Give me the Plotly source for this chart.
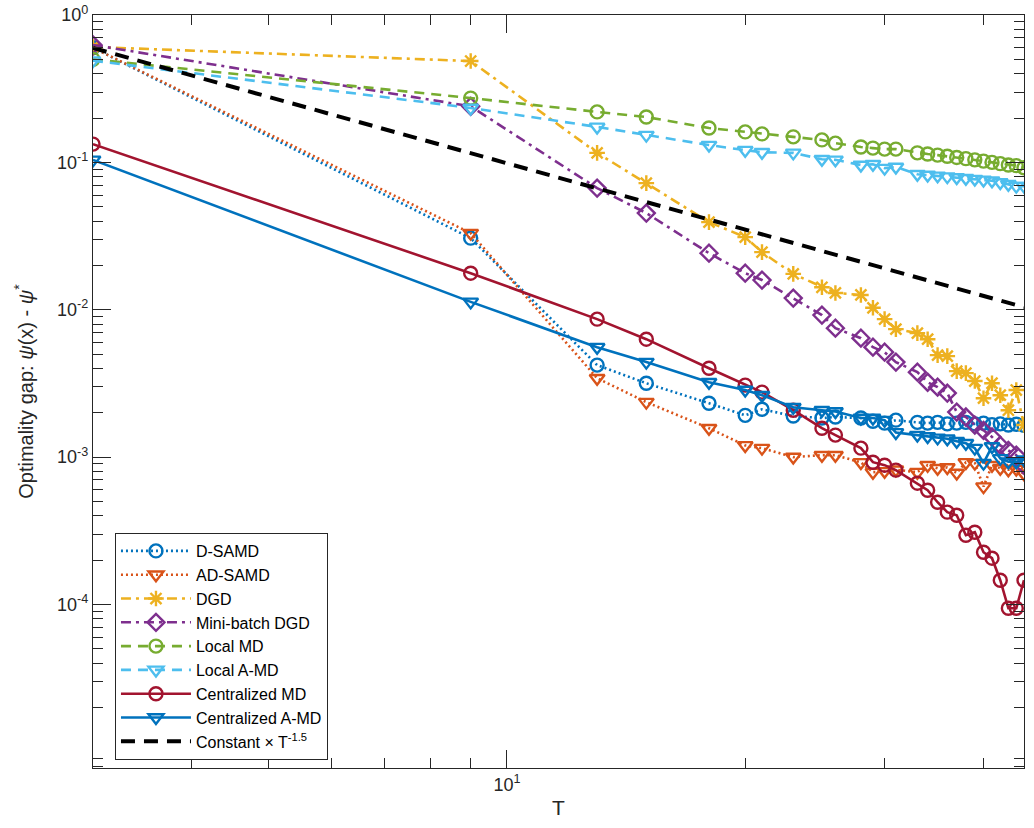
import plotly.graph_objects as go

T = [3, 9, 13, 15, 18, 20, 21, 23, 25, 26, 28, 29, 30, 31, 33, 34, 35, 36, 37, 38, 39, 40, 41, 42, 43, 44, 45]

d_samd = [0.60, 0.0306, 0.00421, 0.00317, 0.00232, 0.00192, 0.00211, 0.00190, 0.00184, 0.00187, 0.00184,
          0.00175, 0.00170, 0.00178, 0.00172, 0.00170, 0.00172, 0.00168, 0.00170, 0.00172, 0.00168,
          0.00170, 0.00166, 0.00168, 0.00165, 0.00167, 0.00164]
ad_samd = [0.60, 0.0331, 0.00343, 0.00236, 0.00157, 0.00120, 0.00115, 0.00100, 0.00103, 0.00103, 0.00092,
           0.00079, 0.00080, 0.00082, 0.00079, 0.00088, 0.00084, 0.00085, 0.00078, 0.00092, 0.00091,
           0.00063, 0.00088, 0.00084, 0.00082, 0.00083, 0.00077]
dgd = [0.607, 0.487, 0.116, 0.0723, 0.0393, 0.0311, 0.0246, 0.0175, 0.0142, 0.0130, 0.0126,
       0.0103, 0.00863, 0.00738, 0.00694, 0.00631, 0.00492, 0.00484, 0.00383, 0.00371, 0.00328,
       0.00251, 0.00317, 0.00263, 0.00208, 0.00285, 0.00165]
mb_dgd = [0.626, 0.240, 0.0669, 0.0453, 0.0242, 0.0177, 0.0159, 0.0120, 0.00919, 0.00750, 0.00641,
          0.00557, 0.00515, 0.00441, 0.00377, 0.00322, 0.00298, 0.00272, 0.00202, 0.00187, 0.00165,
          0.00152, 0.00137, 0.00120, 0.00111, 0.00103, 0.00088]
local_md = [0.50, 0.273, 0.220, 0.203, 0.171, 0.161, 0.156, 0.149, 0.142, 0.135, 0.127,
            0.125, 0.123, 0.123, 0.116, 0.114, 0.112, 0.110, 0.108, 0.106, 0.104,
            0.102, 0.100, 0.098, 0.096, 0.095, 0.092]
local_amd = [0.49, 0.234, 0.174, 0.153, 0.131, 0.121, 0.117, 0.116, 0.105, 0.104, 0.096,
             0.097, 0.0914, 0.093, 0.083, 0.082, 0.081, 0.080, 0.079, 0.078, 0.077,
             0.076, 0.075, 0.073, 0.071, 0.069, 0.069]
cent_md = [0.133, 0.0177, 0.00863, 0.00631, 0.00401, 0.00308, 0.00276, 0.00208, 0.00157, 0.00141, 0.00115,
           0.000923, 0.000881, 0.000815, 0.000665, 0.000596, 0.000494, 0.000423, 0.000403, 0.000295, 0.000309,
           0.000226, 0.000206, 0.000146, 0.0000942, 0.0000942, 0.000146]
cent_amd = [0.104, 0.0113, 0.00557, 0.00441, 0.00322, 0.00285, 0.00263, 0.00218, 0.00208, 0.00204, 0.00184,
            0.00184, 0.00178, 0.00147, 0.00141, 0.00138, 0.00135, 0.00133, 0.00128, 0.00124, 0.00115,
            0.00091, 0.00118, 0.00098, 0.00093, 0.00093, 0.00096]
ref_T = [3, 45]
ref_vals = [0.597, 0.0104]

x_tickvals = [10]
x_ticktext = ["10<sup>1</sup>"]
y_tickvals = [1e-4, 1e-3, 1e-2, 1e-1, 1]
y_ticktext = ["10<sup>-4</sup>", "10<sup>-3</sup>", "10<sup>-2</sup>", "10<sup>-1</sup>", "10<sup>0</sup>"]

FONT = "Liberation Sans, Arial, Helvetica, sans-serif"
LW = 2.6
MS = 13

series = [
    ("D-SAMD", d_samd, "#0072BD", "2px,3px", "circle-open"),
    ("AD-SAMD", ad_samd, "#D95319", "2px,3px", "triangle-down-open"),
    ("DGD", dgd, "#EDB120", "10px,5px,3px,5px", "asterisk-open"),
    ("Mini-batch DGD", mb_dgd, "#7E2F8E", "10px,5px,3px,5px", "diamond-open"),
    ("Local MD", local_md, "#77AC30", "10px,7px", "circle-open"),
    ("Local A-MD", local_amd, "#4DBEEE", "10px,7px", "triangle-down-open"),
    ("Centralized MD", cent_md, "#A2142F", "solid", "circle-open"),
    ("Centralized A-MD", cent_amd, "#0072BD", "solid", "triangle-down-open"),
]

fig = go.Figure()
for name, vals, color, dash, sym in series:
    fig.add_trace(go.Scatter(
        x=T, y=vals, name=name, mode="lines+markers",
        line=dict(color=color, width=LW, dash=dash),
        marker=dict(symbol=sym, size=MS, color=color, line=dict(width=2.4, color=color)),
    ))

fig.add_trace(go.Scatter(
    x=ref_T, y=ref_vals, name="Constant \u00d7 T<sup>-1.5</sup>", mode="lines",
    line=dict(color="black", width=4, dash="14px,9px"),
))

minor_x = [4, 5, 6, 7, 8, 9, 20, 30, 40]
minor_y = []
for e in range(-6, 0):
    for k in range(2, 10):
        minor_y.append(k * 10 ** e)

axis_common = dict(
    showline=True, linecolor="#262626", linewidth=1.2, mirror="allticks",
    ticks="inside", tickcolor="#262626", tickwidth=1.2, ticklen=18,
    showgrid=False, zeroline=False, automargin=False,
    tickfont=dict(family=FONT, size=18, color="#262626"),
)

fig.update_xaxes(
    type="log", range=[0.47712, 1.65321],
    tickmode="array", tickvals=x_tickvals, ticktext=x_ticktext,
    minor=dict(tickmode="array", tickvals=minor_x, ticks="inside", ticklen=10,
               tickcolor="#262626", tickwidth=1.2, showgrid=False),
    title=dict(text="T", font=dict(family=FONT, size=21, color="#262626"), standoff=6),
    **axis_common,
)
fig.update_yaxes(
    type="log", range=[-5.11, 0],
    tickmode="array", tickvals=y_tickvals, ticktext=y_ticktext,
    minor=dict(tickmode="array", tickvals=minor_y, ticks="inside", ticklen=10,
               tickcolor="#262626", tickwidth=1.2, showgrid=False),
    title=dict(text="Optimality gap: <i>\u03c8</i>(x) - <i>\u03c8</i><sup>*</sup>",
               font=dict(family=FONT, size=20, color="#262626"), standoff=18),
    **axis_common,
)

fig.update_layout(
    width=1034, height=828,
    margin=dict(l=93, r=10, t=15, b=60),
    paper_bgcolor="white", plot_bgcolor="white",
    font=dict(family=FONT, color="#262626"),
    showlegend=True,
    legend=dict(
        x=0.0236, y=0.0106, xanchor="left", yanchor="bottom",
        bgcolor="white", bordercolor="#262626", borderwidth=1,
        font=dict(family=FONT, size=16, color="black"),
        tracegroupgap=0, itemwidth=70,
    ),
)

fig.write_html("out.html")
